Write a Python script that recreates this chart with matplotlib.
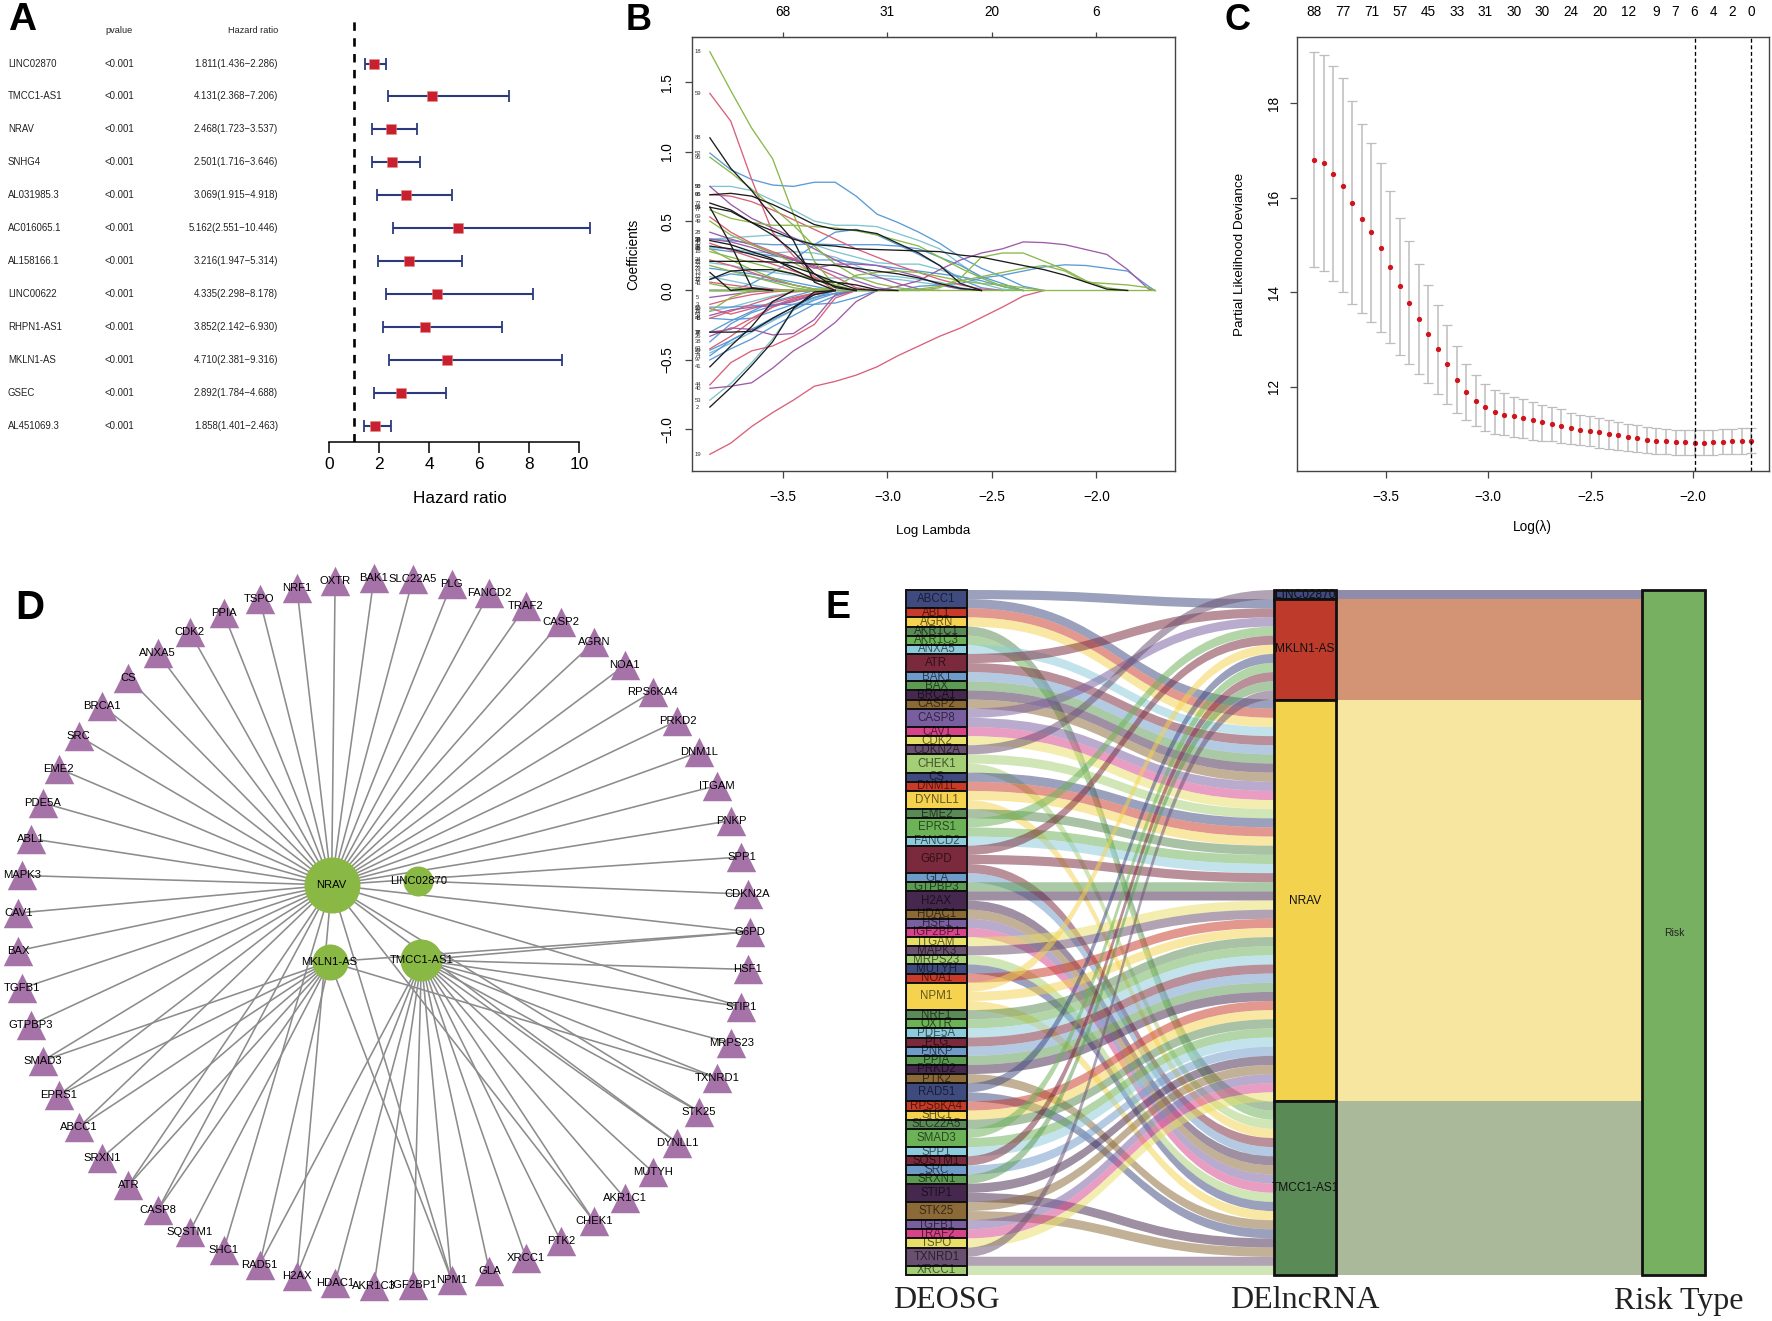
#!/usr/bin/env python3

import matplotlib
matplotlib.use("Agg")
import matplotlib.pyplot as plt
import numpy as np
from matplotlib.patches import PathPatch, Rectangle
from matplotlib.path import Path

plt.rcParams['font.family'] = ['Liberation Sans', 'DejaVu Sans']

WIDTH, HEIGHT = 1772, 1321

# panel A
COX_GENES = ["LINC02870", "TMCC1-AS1", "NRAV", "SNHG4", "AL031985.3", "AC016065.1",
             "AL158166.1", "LINC00622", "RHPN1-AS1", "MKLN1-AS", "GSEC", "AL451069.3"]
COX_HR = [1.811, 4.131, 2.468, 2.501, 3.069, 5.162, 3.216, 4.335, 3.852, 4.710, 2.892, 1.858]
COX_LOW = [1.436, 2.368, 1.723, 1.716, 1.915, 2.551, 1.947, 2.298, 2.142, 2.381, 1.784, 1.401]
COX_HIGH = [2.286, 7.206, 3.537, 3.646, 4.918, 10.446, 5.314, 8.178, 6.930, 9.316, 4.688, 2.463]

# panel B, coefficient paths on a shared log lambda grid, a path stops where it has reached 0
PATH_GRID = [-3.85, -3.75, -3.65, -3.55, -3.45, -3.35, -3.25, -3.15, -3.05, -2.95, -2.85, -2.75,
             -2.65, -2.55, -2.45, -2.35, -2.25, -2.15, -2.05, -1.95, -1.85, -1.75, -1.72]
PATHS_CYAN = {
    50: [.75, .75, .72, .65, .58, .50, .47, .47, .46, .41, .36, .30, .19, .09, .03, 0],
    53: [-.79, -.67, -.52, -.35, -.14, -.02, 0],
    33: [.37, .38, .39, .40, .38, .33, .28, .24, .20, .19, .19, .15, .10, .05, .01, 0],
    36: [.31, .30, .28, .27, .28, .27, .24, .18, .11, .10, .08, .06, .02, 0],
    71: [.20, .18, .15, .13, .11, .09, .09, .09, .09, .08, .06, .04, .01, 0],
    57: [-.45, -.38, -.30, -.22, -.14, -.06, 0],
    23: [-.15, -.12, -.08, -.04, -.01, 0],
    12: [.10, .07, .04, .01, 0],
}
PATHS_BLUE = {
    52: [.99, .87, .80, .76, .75, .78, .78, .68, .55, .49, .42, .34, .24, .16, .10, .03, 0],
    34: [.37, .36, .34, .33, .33, .335, .33, .33, .33, .32, .30, .24, .18, .10, .05, 0],
    61: [0, 0, .05, .13, .22, .33, .42, .44, .40, .33, .26, .18, .08, .02, 0],
    45: [.30, .28, .27, .25, .23, .22, .22, .20, .18, .16, .14, .12, .10, .07, .03, 0],
    83: [0, 0, 0, 0, 0, 0, 0, 0, 0, 0, .03, .04, .05, .09, .11, .14, .17, .185, .18, .16, .14, .03, 0],
    29: [.16, .14, .12, .09, .06, .03, 0],
    21: [.08, .12, .10, .07, .04, .01, 0],
    97: [-.50, -.42, -.35, -.26, -.18, -.10, -.04, 0],
    74: [-.47, -.36, -.28, -.21, -.14, -.07, -.02, 0],
    38: [-.37, -.24, -.16, -.11, -.06, -.02, 0],
    46: [-.20, -.21, -.20, -.15, -.10, -.05, -.02, 0],
    65: [-.12, -.12, -.11, -.10, -.10, -.10, -.09, -.05, 0],
    70: [-.43, -.36, -.28, -.20, -.12, -.05, 0],
    9: [-.30, -.22, -.15, -.08, -.04, 0],
}
PATHS_RED = {
    59: [1.42, 1.22, .80, .42, .25, .10, 0],
    96: [.69, .68, .64, .58, .51, .44, .37, .30, .24, .18, .13, .08, .04, .01, 0],
    69: [.53, .42, .34, .28, .23, .17, .10, .02, 0],
    30: [.34, .29, .24, .19, .14, .09, .03, 0],
    24: [.22, .18, .13, .08, .04, .01, 0],
    7: [.06, .04, .02, .01, 0],
    19: [-1.18, -1.10, -.98, -.88, -.79, -.69, -.655, -.61, -.55, -.47, -.40, -.33, -.27, -.195, -.12, -.04, 0],
    44: [-.68, -.52, -.435, -.40, -.33, -.245, -.055, 0],
    63: [-.42, -.33, -.22, -.12, -.06, -.02, 0],
    78: [-.30, -.28, -.20, -.12, -.07, -.03, 0],
    15: [-.13, -.17, -.13, -.09, -.05, -.02, 0],
    48: [-.20, -.15, -.10, -.05, -.01, 0],
    3: [-.10, -.06, -.03, -.01, 0],
}
PATHS_PURPLE = {
    98: [.75, .62, .52, .45, .38, .30, .22, .15, .10, .05, .01, 0],
    81: [0, 0, 0, 0, 0, 0, 0, 0, 0, .03, .07, .15, .22, .27, .30, .35, .345, .33, .295, .26, .15, .01, 0],
    40: [-.705, -.69, -.665, -.56, -.435, -.345, -.23, -.08, 0],
    26: [-.33, -.27, -.28, -.32, -.31, -.21, -.03, 0],
    28: [.42, .37, .33, .27, .22, .16, .19, .19, .18, .14, .10, .04, .01, 0],
    39: [.37, .35, .31, .26, .22, .18, .13, .07, .02, 0],
    54: [-.18, -.14, -.12, -.11, -.08, -.03, 0],
    5: [-.05, -.03, -.01, 0],
}
PATHS_GREEN = {
    18: [1.72, 1.44, 1.17, .95, .55, .21, .03, 0],
    95: [.96, .85, .73, .60, .47, .32, .19, .10, .05, .02, 0],
    75: [0, 0, 0, 0, 0, 0, 0, 0, 0, 0, 0, .02, .09, .24, .27, .27, .21, .15, .07, .02, 0],
    67: [0, 0, 0, 0, 0, 0, 0, 0, 0, 0, .01, .03, .07, .10, .13, .16, .18, .14, .06, .05, .04, .02, 0],
    77: [.58, .52, .49, .47, .47, .46, .45, .43, .40, .36, .32, .24, .16, .09, .03, 0],
    49: [.50, .40, .33, .27, .20, .12, .04, 0],
    16: [.28, .24, .20, .16, .12, .08, .03, 0],
    11: [-.15, -.05, 0],
    31: [.30, .22, .15, .09, .04, .01, 0],
    22: [.18, .14, .10, .06, .02, 0],
    43: [.05, .02, .01, 0, 0, 0, .03, .11, .13, .14, .13, .10, .07, .05, .04, .02, 0],
    84: [0, 0, 0, 0, 0, 0, 0, 0, 0, 0, 0, 0, 0, 0, 0, 0, 0, 0, 0, 0, 0, 0, 0],
}
PATHS_BLACK = {
    88: [1.10, .88, .72, .53, .36, .06, 0],
    66: [.69, .70, .68, .62, .55, .475, .44, .435, .41, .34, .27, .18, .05, 0],
    72: [.63, .58, .49, .40, .28, .12, .02, 0],
    55: [.60, .57, .49, .43, .37, .33, .32, .30, .295, .29, .285, .28, .255, .24, .21, .18, .15, .11, .06, .01, 0],
    58: [.60, .33, .02, 0],
    25: [.21, .21, .21, .205, .20, .19, .18, .16, .14, .12, .09, .05, .015, 0],
    35: [.36, .33, .28, .23, .15, .08, .03, 0],
    32: [.32, .30, .26, .22, .17, .12, .06, .01, 0],
    13: [.13, 0, .015, 0],
    17: [.08, .14, .15, .15, .12, .07, .06, .04, .005, 0],
    2: [-.84, -.70, -.54, -.37, -.13, -.01, 0],
    41: [-.55, -.40, -.26, -.08, 0],
    37: [-.30, -.30, -.295, -.20, -.12, -.03, 0],
}
PATH_TOP_TICKS = [-3.5, -3.0, -2.5, -2.0]
PATH_TOP_LABELS = ["68", "31", "20", "6"]

# panel C
LOG_LAMBDA = [-3.851, -3.804, -3.757, -3.711, -3.664, -3.618, -3.571, -3.525, -3.479, -3.432,
              -3.386, -3.339, -3.293, -3.246, -3.2, -3.154, -3.107, -3.061, -3.014, -2.968,
              -2.921, -2.875, -2.828, -2.782, -2.736, -2.689, -2.643, -2.596, -2.55, -2.503,
              -2.457, -2.41, -2.364, -2.317, -2.271, -2.225, -2.178, -2.132, -2.085, -2.039,
              -1.992, -1.946, -1.9, -1.853, -1.807, -1.76, -1.714]
DEVIANCE = [16.80, 16.74, 16.51, 16.26, 15.90, 15.56, 15.27, 14.94, 14.54, 14.13,
            13.78, 13.43, 13.11, 12.79, 12.47, 12.15, 11.89, 11.70, 11.56, 11.47,
            11.41, 11.37, 11.33, 11.29, 11.25, 11.21, 11.17, 11.12, 11.09, 11.06,
            11.03, 11.00, 10.97, 10.94, 10.91, 10.88, 10.86, 10.84, 10.83, 10.82,
            10.81, 10.81, 10.82, 10.83, 10.84, 10.85, 10.86]
DEVIANCE_UP = [19.08, 19.02, 18.80, 18.53, 18.04, 17.56, 17.16, 16.73, 16.15, 15.58,
               15.08, 14.60, 14.15, 13.73, 13.30, 12.86, 12.49, 12.24, 12.06, 11.94,
               11.86, 11.79, 11.73, 11.68, 11.62, 11.57, 11.52, 11.45, 11.41, 11.37,
               11.34, 11.29, 11.26, 11.22, 11.18, 11.15, 11.12, 11.10, 11.09, 11.08,
               11.08, 11.09, 11.09, 11.10, 11.11, 11.12, 11.13]
DEVIANCE_LOW = [14.54, 14.46, 14.24, 14.00, 13.75, 13.56, 13.37, 13.16, 12.92, 12.68,
                12.47, 12.27, 12.07, 11.85, 11.64, 11.45, 11.29, 11.16, 11.06, 11.00,
                10.97, 10.93, 10.91, 10.88, 10.86, 10.84, 10.81, 10.79, 10.76, 10.74,
                10.71, 10.69, 10.66, 10.64, 10.62, 10.60, 10.58, 10.57, 10.56, 10.55,
                10.55, 10.55, 10.56, 10.57, 10.57, 10.58, 10.59]
DF_POSITIONS = [0, 3, 6, 9, 12, 15, 18, 21, 24, 27, 30, 33, 36, 38, 40, 42, 44, 46]
DF_LABELS = ["88", "77", "71", "57", "45", "33", "31", "30", "30", "24", "20", "12", "9", "7", "6", "4", "2", "0"]
LAMBDA_MIN_INDEX = 40
LAMBDA_1SE_INDEX = 46

# panels D and E share the same gene to lncRNA links
GENES = ["ABCC1", "ABL1", "AGRN", "AKR1C1", "AKR1C3", "ANXA5", "ATR", "BAK1", "BAX", "BRCA1", "CASP2",
         "CASP8", "CAV1", "CDK2", "CDKN2A", "CHEK1", "CS", "DNM1L", "DYNLL1", "EME2", "EPRS1", "FANCD2",
         "G6PD", "GLA", "GTPBP3", "H2AX", "HDAC1", "HSF1", "IGF2BP1", "ITGAM", "MAPK3", "MRPS23", "MUTYH",
         "NOA1", "NPM1", "NRF1", "OXTR", "PDE5A", "PLG", "PNKP", "PPIA", "PRKD2", "PTK2", "RAD51", "RPS6KA4",
         "SHC1", "SLC22A5", "SMAD3", "SPP1", "SQSTM1", "SRC", "SRXN1", "STIP1", "STK25", "TGFB1", "TRAF2",
         "TSPO", "TXNRD1", "XRCC1"]
RING_ORDER = ["G6PD", "CDKN2A", "SPP1", "PNKP", "ITGAM", "DNM1L", "PRKD2", "RPS6KA4", "NOA1", "AGRN", "CASP2",
              "TRAF2", "FANCD2", "PLG", "SLC22A5", "BAK1", "OXTR", "NRF1", "TSPO", "PPIA", "CDK2", "ANXA5", "CS",
              "BRCA1", "SRC", "EME2", "PDE5A", "ABL1", "MAPK3", "CAV1", "BAX", "TGFB1", "GTPBP3", "SMAD3", "EPRS1",
              "ABCC1", "SRXN1", "ATR", "CASP8", "SQSTM1", "SHC1", "RAD51", "H2AX", "HDAC1", "AKR1C3", "IGF2BP1",
              "NPM1", "GLA", "XRCC1", "PTK2", "CHEK1", "AKR1C1", "MUTYH", "DYNLL1", "STK25", "TXNRD1", "MRPS23",
              "STIP1", "HSF1"]
LNCRNAS = ["LINC02870", "MKLN1-AS", "NRAV", "TMCC1-AS1"]
LINC02870_TARGETS = ["CDKN2A"]
MKLN1_TARGETS = ["ABCC1", "ATR", "CASP8", "EPRS1", "G6PD", "NPM1", "RAD51", "SMAD3", "SQSTM1", "SRXN1", "TXNRD1"]
TMCC1_TARGETS = ["AKR1C1", "AKR1C3", "CHEK1", "DYNLL1", "G6PD", "GLA", "H2AX", "HDAC1", "HSF1", "IGF2BP1", "MRPS23",
                 "MUTYH", "NPM1", "PTK2", "RAD51", "STIP1", "STK25", "TXNRD1", "XRCC1"]
NRAV_TARGETS = ["ABCC1", "ABL1", "AGRN", "ANXA5", "ATR", "BAK1", "BAX", "BRCA1", "CASP2", "CASP8", "CAV1", "CDK2",
                "CHEK1", "CS", "DNM1L", "DYNLL1", "EME2", "EPRS1", "FANCD2", "G6PD", "GTPBP3", "H2AX", "ITGAM",
                "MAPK3", "NOA1", "NPM1", "NRF1", "OXTR", "PDE5A", "PLG", "PNKP", "PPIA", "PRKD2", "RPS6KA4", "SHC1",
                "SLC22A5", "SMAD3", "SPP1", "SRC", "STIP1", "STK25", "TGFB1", "TRAF2", "TSPO"]

GENE_PALETTE = ["#3f4a7f", "#c93b28", "#f5d34f", "#5a8a55", "#6cb257", "#8ccbdc", "#7a2a3c", "#6f9bcb",
                "#5b9b52", "#46284f", "#8c6a38", "#7a5fa0", "#d8448a", "#e8e066", "#6a5070", "#a5cf75"]
LNC_COLORS = ["#3f4a7f", "#be3a2b", "#f3d24e", "#5a8a55"]
RISK_FLOW_COLORS = ["#8e8bab", "#d29474", "#f7e6a0", "#a9b999"]


def px_axes(fig, left, top, right, bottom):
    return fig.add_axes([left / WIDTH, 1 - bottom / HEIGHT, (right - left) / WIDTH, (bottom - top) / HEIGHT])


def px_text(fig, x, y, label, **kwargs):
    fig.text(x / WIDTH, 1 - y / HEIGHT, label, ha='center', va='center', **kwargs)


def panel_letter(fig, letter, x, y, size):
    fig.text(x / WIDTH, 1 - y / HEIGHT, letter, fontsize=size, fontweight='bold', ha='left', va='baseline')


def draw_forest(fig):
    # 25 px per unit, row spacing 32.95 px
    ax = px_axes(fig, 329, 21, 604, 441.5)
    rows = np.arange(len(COX_GENES))
    hr, low, high = np.array(COX_HR), np.array(COX_LOW), np.array(COX_HIGH)
    ax.set_xlim(0, 11)
    ax.set_ylim(11.47, -1.29)
    ax.axvline(1, color='black', lw=1.9, linestyle=(0, (3.2, 2.8)))
    ax.errorbar(hr, rows, xerr=[hr - low, high - hr], fmt='none', ecolor='#2b3a7e',
                elinewidth=1.5, capsize=4.6, capthick=1.3)
    ax.plot(hr, rows, 's', color='#c8202f', ms=6.8, mec='#e58a80', mew=0.4)
    for spine in ['top', 'left', 'right']:
        ax.spines[spine].set_visible(False)
    ax.spines['bottom'].set_bounds(0, 10)
    ax.spines['bottom'].set_linewidth(1.1)
    ax.set_yticks([])
    ax.set_xticks([0, 2, 4, 6, 8, 10])
    ax.tick_params(axis='x', length=7.9, width=1.1, labelsize=12.5, pad=3)
    px_text(fig, 459.5, 498.6, "Hazard ratio", fontsize=12.3)

    ax.text(-8.4, -1, "pvalue", fontsize=6.6, ha='center', va='center', color='#222222')
    ax.text(-2.04, -1, "Hazard ratio", fontsize=6.6, ha='right', va='center', color='#222222')
    for i, name in enumerate(COX_GENES):
        ax.text(-12.84, i, name, fontsize=6.9, ha='left', va='center', color='#222222')
        ax.text(-8.4, i, "<0.001", fontsize=6.9, ha='center', va='center', color='#222222')
        label = f"{COX_HR[i]:.3f}({COX_LOW[i]:.3f}\u2212{COX_HIGH[i]:.3f})"
        ax.text(-2.04, i, label, fontsize=6.9, ha='right', va='center', color='#222222')


def style_r_axes(ax, xpad, ypad):
    for spine in ax.spines.values():
        spine.set_color('#444444')
        spine.set_linewidth(1.0)
    ax.tick_params(axis='both', length=5, width=0.9, color='#444444', labelsize=9.8)
    ax.tick_params(axis='x', pad=xpad)
    ax.tick_params(axis='y', pad=ypad)
    for label in ax.get_yticklabels():
        label.set_rotation(90)
        label.set_va('center')


def draw_paths(fig):
    ax = px_axes(fig, 691.8, 36.8, 1175, 470.9)
    groups = [(PATHS_CYAN, '#80c4cf'), (PATHS_BLUE, '#5b9bd5'), (PATHS_RED, '#d9607a'),
              (PATHS_PURPLE, '#9e5ba8'), (PATHS_GREEN, '#8ab84a'), (PATHS_BLACK, '#1c1c1c')]
    for paths, color in groups:
        for line_id, coefs in paths.items():
            ax.plot(PATH_GRID[:len(coefs)], coefs, color=color, lw=0.95)
            if coefs[0] != 0:
                ax.text(-3.908, coefs[0], str(line_id), fontsize=4.2, color='#333333', ha='center', va='center')
    ax.set_xlim(-3.9366, -1.6235)
    ax.set_ylim(-1.30, 1.828)
    ax.set_xticks([-3.5, -3.0, -2.5, -2.0])
    ax.set_yticks([-1.0, -0.5, 0.0, 0.5, 1.0, 1.5])
    style_r_axes(ax, 8.6, 7.5)
    top = ax.secondary_xaxis('top')
    top.set_xticks(PATH_TOP_TICKS, PATH_TOP_LABELS)
    top.tick_params(length=3.3, width=0.9, color='#444444', labelsize=9.8, pad=9.3)
    top.spines['top'].set_color('#444444')
    px_text(fig, 933, 530.5, "Log Lambda", fontsize=9.6)
    px_text(fig, 633, 254, "Coefficients", fontsize=9.8, rotation=90)


def draw_cv(fig):
    ax = px_axes(fig, 1297, 36.8, 1769, 471.2)
    x = np.array(LOG_LAMBDA)
    mean = np.array(DEVIANCE)
    ax.errorbar(x, mean, yerr=[mean - np.array(DEVIANCE_LOW), np.array(DEVIANCE_UP) - mean], fmt='none',
                ecolor='#bdbdbd', elinewidth=1.1, capsize=3.4, capthick=0.9)
    ax.plot(x, mean, 'o', color='#d0141e', ms=3.8, mew=0)
    for index in [LAMBDA_MIN_INDEX, LAMBDA_1SE_INDEX]:
        ax.axvline(LOG_LAMBDA[index], color='black', lw=0.95, linestyle=(0, (3, 2)))
    ax.set_xlim(-3.935, -1.628)
    ax.set_ylim(10.21, 19.41)
    ax.set_xticks([-3.5, -3.0, -2.5, -2.0])
    ax.set_yticks([12, 14, 16, 18])
    style_r_axes(ax, 8.6, 6.7)
    for pos, label in zip(DF_POSITIONS, DF_LABELS):
        ax.text(LOG_LAMBDA[pos], 1.0564, label, transform=ax.get_xaxis_transform(), fontsize=9.8,
                ha='center', va='center')
    px_text(fig, 1532.6, 527, "Log(\u03bb)", fontsize=9.8)
    px_text(fig, 1240, 254, "Partial Likelihood Deviance", fontsize=9.7, rotation=90)


def draw_network(ax):
    cx, cy, rx, ry = 383.7, 931.8, 366, 354
    angles = np.deg2rad(np.arange(len(RING_ORDER)) * 360 / len(RING_ORDER))
    ring = {g: (cx + rx * np.cos(a), cy - ry * np.sin(a)) for g, a in zip(RING_ORDER, angles)}
    hubs = {
        "NRAV": ((331.6, 885), 56, NRAV_TARGETS),
        "LINC02870": ((418.4, 881), 30, LINC02870_TARGETS),
        "MKLN1-AS": ((329.6, 961.8), 36, MKLN1_TARGETS),
        "TMCC1-AS1": ((421.4, 959.9), 42, TMCC1_TARGETS),
    }
    for (hx, hy), _, targets in hubs.values():
        for gene in targets:
            ax.plot([hx, ring[gene][0]], [hy, ring[gene][1]], color='#8c8c8c', lw=1.15, zorder=1)
    xs = [ring[g][0] for g in RING_ORDER]
    ys = [ring[g][1] for g in RING_ORDER]
    ax.scatter(xs, ys, marker='^', s=450, color='#a673a9', linewidths=0, zorder=2)
    for name, ((hx, hy), diameter, _) in hubs.items():
        ax.scatter([hx], [hy], s=(diameter * 0.72) ** 2, color='#8ab844', linewidths=0, zorder=2)
        ax.text(hx, hy, name, fontsize=8.1, ha='center', va='center', zorder=3)
    for gene in RING_ORDER:
        ax.text(ring[gene][0], ring[gene][1], gene, fontsize=8.1, ha='center', va='center', zorder=3)


def ribbon(ax, x0, x1, y0, y1, thickness, color):
    mid = (x0 + x1) / 2
    verts = [(x0, y0), (mid, y0), (mid, y1), (x1, y1), (x1, y1 + thickness),
             (mid, y1 + thickness), (mid, y0 + thickness), (x0, y0 + thickness), (x0, y0)]
    codes = [Path.MOVETO, Path.CURVE4, Path.CURVE4, Path.CURVE4, Path.LINETO,
             Path.CURVE4, Path.CURVE4, Path.CURVE4, Path.CLOSEPOLY]
    ax.add_patch(PathPatch(Path(verts, codes), facecolor=color, edgecolor='none', alpha=0.52, zorder=1))


def draw_alluvial(ax):
    top, bottom = 590, 1275
    links = {"LINC02870": LINC02870_TARGETS, "MKLN1-AS": MKLN1_TARGETS, "NRAV": NRAV_TARGETS, "TMCC1-AS1": TMCC1_TARGETS}
    total = sum(len(t) for t in links.values())
    unit = (bottom - top) / total
    gene_left, gene_right, lnc_left, lnc_right, risk_left, risk_right = 906, 967, 1274, 1336, 1642, 1705

    # colour cycle restarts at RAD51 in the reference
    restart = GENES.index("RAD51")
    colors = {}
    for i, gene in enumerate(GENES):
        colors[gene] = GENE_PALETTE[(i if i < restart else i - restart) % len(GENE_PALETTE)]

    lnc_tops = {}
    y = top
    for lnc in LNCRNAS:
        lnc_tops[lnc] = y
        y += len(links[lnc]) * unit

    used = dict(lnc_tops)
    gene_boxes = {}
    y = top
    for gene in GENES:
        start = y
        for lnc in LNCRNAS:
            if gene in links[lnc]:
                ribbon(ax, gene_right, lnc_left, y, used[lnc], unit, colors[gene])
                used[lnc] += unit
                y += unit
        gene_boxes[gene] = (start, y)

    for gene, (y0, y1) in gene_boxes.items():
        ax.add_patch(Rectangle((gene_left, y0), gene_right - gene_left, y1 - y0, facecolor=colors[gene],
                               edgecolor='#111111', lw=1.4, zorder=2))
        ax.text((gene_left + gene_right) / 2, (y0 + y1) / 2, gene, fontsize=8.3, ha='center', va='center',
                color='black', alpha=0.6, zorder=3)

    for lnc, color, flow in zip(LNCRNAS, LNC_COLORS, RISK_FLOW_COLORS):
        h = len(links[lnc]) * unit
        ax.add_patch(Rectangle((lnc_right, lnc_tops[lnc]), risk_left - lnc_right, h, facecolor=flow,
                               edgecolor='none', zorder=1))
        ax.add_patch(Rectangle((lnc_left, lnc_tops[lnc]), lnc_right - lnc_left, h, facecolor=color,
                               edgecolor='#111111', lw=2, zorder=2))
        ax.text((lnc_left + lnc_right) / 2, lnc_tops[lnc] + h / 2, lnc, fontsize=8.6, ha='center', va='center',
                color='#111111', zorder=3)

    ax.add_patch(Rectangle((risk_left, top), risk_right - risk_left, bottom - top, facecolor='#78b062',
                           edgecolor='#111111', lw=2, zorder=2))
    ax.text(1674, 933, "Risk", fontsize=7.5, ha='center', va='center', color='#222222', zorder=3)

    for label, x in [("DEOSG", 946.7), ("DElncRNA", 1305), ("Risk Type", 1679)]:
        ax.text(x, 1301, label, family='Liberation Serif', fontsize=23, ha='center', va='center', color='#222222')


def main():
    fig = plt.figure(figsize=(WIDTH / 100, HEIGHT / 100), dpi=100)

    draw_forest(fig)
    draw_paths(fig)
    draw_cv(fig)

    canvas = fig.add_axes([0, 0, 1, 1])
    canvas.set_xlim(0, WIDTH)
    canvas.set_ylim(HEIGHT, 0)
    canvas.axis('off')
    canvas.patch.set_alpha(0)
    draw_network(canvas)
    draw_alluvial(canvas)

    panel_letter(fig, "A", 8, 30, 28)
    panel_letter(fig, "B", 626, 30, 26)
    panel_letter(fig, "C", 1225, 30, 26)
    panel_letter(fig, "D", 15, 619, 29)
    panel_letter(fig, "E", 826, 618, 27)

    fig.savefig("out.png", dpi=100)


if __name__ == "__main__":
    main()
